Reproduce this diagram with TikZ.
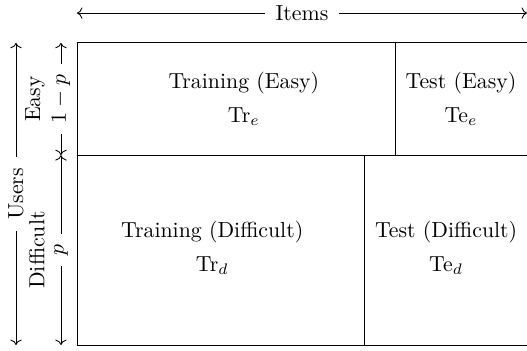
\documentclass[tikz,border=0pt]{standalone}
\usepackage{tikz}
\usetikzlibrary{positioning, arrows.meta, calc}

\begin{document}
\begin{tikzpicture}
  [cellbox/.style={align=center,inner sep=0pt},
   dimarrow/.style={<->},
   dimlabel/.style={fill=white,inner xsep=5pt,inner ysep=2pt}]
  \useasboundingbox (-1.241,-0.081) rectangle (7.254,5.561);
  % grid corners
  \coordinate (boxsw) at (0,0);
  \coordinate (boxne) at (7.28,4.87);
  \coordinate (splitw) at (0,3.06);
  \coordinate (splite) at (7.28,3.06);
  \coordinate (cuttop) at (5.13,4.87);
  \coordinate (cutmidtop) at (5.13,3.06);
  \coordinate (cutmidbot) at (4.64,3.06);
  \coordinate (cutbot) at (4.64,0);
  \draw (boxsw) rectangle (boxne);
  \draw (splitw) -- (splite);
  \draw (cuttop) -- (cutmidtop);
  \draw (cutmidbot) -- (cutbot);
  % cell texts
  \node (traineasy) at (2.69,3.965) [cellbox] {Training (Easy)\\[3.5pt] Tr$_e$};
  \node (testeasy) at (6.19,3.965) [cellbox] {Test (Easy)\\[3.5pt] Te$_e$};
  \node (traindiff) at (2.18,1.56) [cellbox] {Training (Difficult)\\[3.5pt] Tr$_d$};
  \node (testdiff) at (5.95,1.56) [cellbox] {Test (Difficult)\\[3.5pt] Te$_d$};
  % dimension arrows
  \coordinate (itemsleft) at (0,5.35);
  \coordinate (itemsright) at (7.254,5.35);
  \draw [dimarrow] (itemsleft) -- node [dimlabel] (itemslabel) {Items} (itemsright);
  \coordinate (usersbot) at (-0.983,0);
  \coordinate (userstop) at (-0.983,4.87);
  \draw [dimarrow] (usersbot) -- node [dimlabel,sloped] (userslabel) {Users} (userstop);
  \coordinate (fracbot) at (-0.258,0);
  \coordinate (fracmid) at (-0.258,3.06);
  \coordinate (fractop) at (-0.258,4.87);
  \draw [dimarrow] (fracmid) -- node [dimlabel,sloped] (easyfrac) {$1-p$}
    node [sloped,above=4pt] (easylabel) {Easy} (fractop);
  \draw [dimarrow] (fracbot) -- node [dimlabel,sloped] (difffrac) {$p$}
    node [sloped,above=4pt] (difflabel) {Difficult} (fracmid);
\end{tikzpicture}
\end{document}
